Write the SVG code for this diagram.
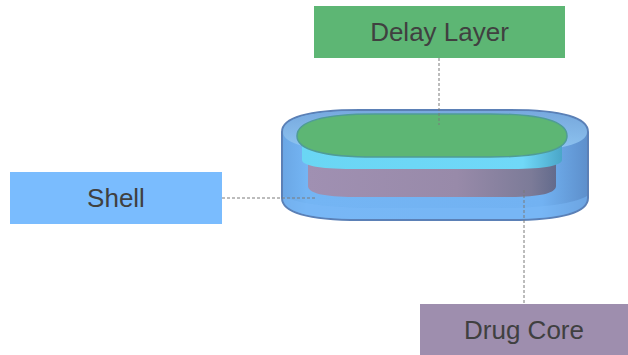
<svg xmlns="http://www.w3.org/2000/svg" width="628" height="355" viewBox="0 0 628 355">
  <style>
    .label { font-family: "Liberation Sans", Arial, sans-serif; font-size: 26px; fill: #404040; text-anchor: middle; }
    .lead { stroke: #7a7a7a; stroke-width: 1; stroke-dasharray: 3 2; fill: none; }
  </style>
  <defs>
    <linearGradient id="shellSide" x1="0" y1="0" x2="1" y2="0">
      <stop offset="0" stop-color="#6aa6e4"/>
      <stop offset="0.08" stop-color="#74b5f4"/>
      <stop offset="0.85" stop-color="#72b2f2"/>
      <stop offset="1" stop-color="#5d8fcb"/>
    </linearGradient>
    <linearGradient id="shellTop" x1="0" y1="0" x2="0" y2="1">
      <stop offset="0" stop-color="#78a8dc"/>
      <stop offset="1" stop-color="#92c8f3"/>
    </linearGradient>
    <linearGradient id="core" x1="0" y1="0" x2="1" y2="0">
      <stop offset="0" stop-color="#a090b2"/>
      <stop offset="0.6" stop-color="#988aa9"/>
      <stop offset="0.9" stop-color="#7c7b98"/>
      <stop offset="1" stop-color="#636b8c"/>
    </linearGradient>
    <linearGradient id="band" x1="0" y1="0" x2="1" y2="0">
      <stop offset="0" stop-color="#6ad6f4"/>
      <stop offset="0.85" stop-color="#70d8f8"/>
      <stop offset="1" stop-color="#4aa6c8"/>
    </linearGradient>
  </defs>

  <!-- tablet drawing -->
  <g id="tablet">
    <!-- shell body -->
    <path d="M282,132 C282,117 310,110 360,110 L510,110 C560,110 588,117 588,132 L588,198 C588,213 560,220 510,220 L360,220 C310,220 282,213 282,198 Z" fill="url(#shellSide)" stroke="#5b80b6" stroke-width="2"/>
    <!-- shell top face -->
    <path d="M283,132 C283,118 311,111 360,111 L510,111 C559,111 587,118 587,132 C587,144 559,151 510,151 L360,151 C311,151 283,144 283,132 Z" fill="url(#shellTop)" opacity="0.9"/>
    <!-- drug core -->
    <path d="M308,160 L556,160 L556,186 C556,193 540,197 510,197 L354,197 C324,197 308,193 308,186 Z" fill="url(#core)"/>
    <!-- delay layer edge -->
    <path d="M302,146 L562,146 L562,160 C562,165 546,169 512,169 L352,169 C318,169 302,165 302,160 Z" fill="url(#band)"/>
    <!-- delay layer top -->
    <path d="M297,136 C297,121 325,114 375,114 L490,114 C540,114 567,121 567,136 C567,150 540,157 490,157 L375,157 C325,157 297,150 297,136 Z" fill="#5db674" stroke="#4f9c96" stroke-width="1.5"/>
    <!-- shell front wall sheen -->
    <path d="M283,196 C300,205 340,208 380,208 L490,208 C540,208 570,205 587,196 L587,198 C587,212 560,219 510,219 L360,219 C310,219 283,212 283,198 Z" fill="#7bbaf7" opacity="0.5"/>
  </g>

  <!-- connectors -->
  <g id="connectors">
    <line class="lead" x1="439" y1="58" x2="439" y2="125"/>
    <line class="lead" x1="222" y1="198" x2="316" y2="198"/>
    <line class="lead" x1="524" y1="190" x2="524" y2="303"/>
  </g>

  <g id="delay-layer">
    <rect x="314" y="6" width="251" height="52" fill="#5db674"/>
    <text class="label" x="439.5" y="41">Delay Layer</text>
  </g>

  <g id="shell">
    <rect x="10" y="172" width="212" height="52" fill="#7abcfe"/>
    <text class="label" x="116" y="207">Shell</text>
  </g>

  <g id="drug-core">
    <rect x="420" y="304" width="208" height="51" fill="#9e8eae"/>
    <text class="label" x="524" y="339">Drug Core</text>
  </g>
</svg>
